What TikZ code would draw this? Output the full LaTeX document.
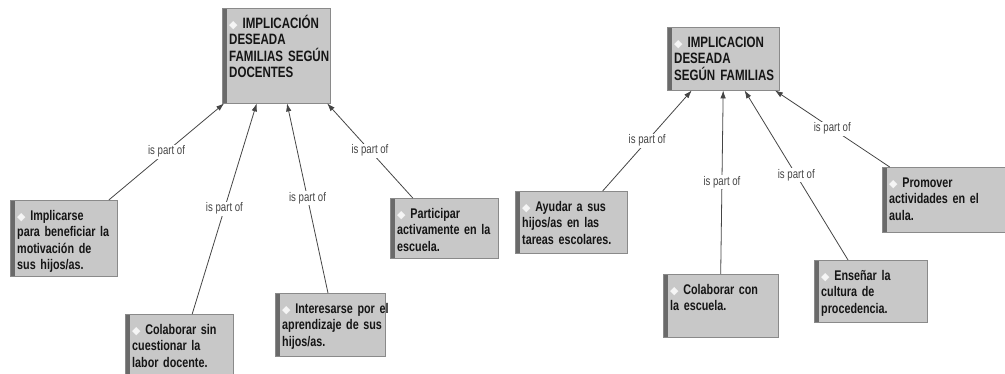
\documentclass[tikz,border=0pt]{standalone}
\usepackage{fontspec}
\setmainfont[FakeStretch=0.77]{Liberation Sans}
\newfontfamily\simbolos{DejaVu Sans}
\usetikzlibrary{arrows.meta}
\usetikzlibrary{calc}
\usepackage{xcolor}

\definecolor{relleno}{HTML}{C8C8C8}
\definecolor{franja}{HTML}{6A6A6A}
\definecolor{borde}{HTML}{8A8A8A}
\definecolor{linea}{HTML}{454545}
\definecolor{texto}{HTML}{151515}

\newcommand{\rombo}{{\simbolos\fontsize{11}{11}\selectfont\color{white!92!gray}◆}~}

\tikzset{
  concepto/.style={draw=borde, fill=relleno, rectangle, anchor=north west, align=left,
    inner xsep=7pt, inner ysep=6pt, text height=14pt,
    font=\fontsize{14}{16.5}\selectfont\bfseries, text=texto,
    execute at begin node={\hyphenpenalty=10000\exhyphenpenalty=10000\hbadness=10000\hfuzz=20pt},
    path picture={\fill[franja] (path picture bounding box.south west)
      rectangle ([xshift=5pt]path picture bounding box.north west);}},
  raiz/.style={concepto, font=\fontsize{15}{16.5}\selectfont\bfseries},
  parte/.style={draw=linea, line width=0.8pt, -{Latex[length=8pt,width=5.5pt]}},
  etiqueta/.style={fill=white, inner sep=1pt, font=\fontsize{12.5}{12.5}\selectfont, text=linea}
}

\begin{document}
\begin{tikzpicture}[x=1pt, y=-1pt]
  \useasboundingbox (0,0) rectangle (1005,374);

  % segun docentes
  \node (d0) [raiz, text width=94pt, text depth=69pt] at (222,8) {\rombo IMPLICACIÓN\\ DESEADA\\ FAMILIAS~SEGÚN\\ DOCENTES};
  \node (d1) [concepto, text width=93pt, text depth=50pt] at (10,200) {\rombo Implicarse\\ para~beneficiar~la\\ motivación~de\\ sus~hijos/as.};
  \node (d2) [concepto, text width=94pt, text depth=34pt] at (125,314) {\rombo Colaborar~sin\\ cuestionar~la\\ labor~docente.};
  \node (d3) [concepto, text width=96pt, text depth=37pt] at (275,293) {\rombo Interesarse~por~el\\ aprendizaje~de~sus\\ hijos/as.};
  \node (d4) [concepto, text width=94pt, text depth=34pt] at (390,198) {\rombo Participar\\ activamente~en~la\\ escuela.};

  \draw [parte] ($(d1.north west)!0.92!(d1.north east)$) -- node[etiqueta] {is part of} ($(d0.south west)!0.02!(d0.south east)$);
  \draw [parte] ($(d2.north west)!0.62!(d2.north east)$) -- node[etiqueta] {is part of} ($(d0.south west)!0.32!(d0.south east)$);
  \draw [parte] ($(d3.north west)!0.48!(d3.north east)$) -- node[etiqueta] {is part of} ($(d0.south west)!0.6!(d0.south east)$);
  \draw [parte] ($(d4.north west)!0.21!(d4.north east)$) -- node[etiqueta] {is part of} ($(d0.south west)!0.97!(d0.south east)$);

  % segun familias
  \node (f0) [raiz, text width=98pt, text depth=37pt] at (667,27) {\rombo IMPLICACION\\ DESEADA\\ SEGÚN~FAMILIAS};
  \node (f1) [concepto, text width=98pt, text depth=36pt] at (515,191) {\rombo Ayudar~a~sus\\ hijos/as~en~las\\ tareas~escolares.};
  \node (f2) [concepto, text width=101pt, text depth=37pt] at (663,274) {\rombo Colaborar~con\\ la~escuela.};
  \node (f3) [concepto, text width=99pt, text depth=36pt] at (814,260) {\rombo Enseñar~la\\ cultura~de\\ procedencia.};
  \node (f4) [concepto, text width=114pt, text depth=39pt] at (882,167) {\rombo Promover\\ actividades~en~el\\ aula.};

  \draw [parte] ($(f1.north west)!0.78!(f1.north east)$) -- node[etiqueta] {is part of} ($(f0.south west)!0.22!(f0.south east)$);
  \draw [parte] ($(f2.north west)!0.5!(f2.north east)$) -- node[etiqueta] {is part of} ($(f0.south west)!0.5!(f0.south east)$);
  \draw [parte] ($(f3.north west)!0.3!(f3.north east)$) -- node[etiqueta] {is part of} ($(f0.south west)!0.69!(f0.south east)$);
  \draw [parte] ($(f4.north west)!0.06!(f4.north east)$) -- node[etiqueta] {is part of} ($(f0.south west)!0.96!(f0.south east)$);
\end{tikzpicture}
\end{document}
